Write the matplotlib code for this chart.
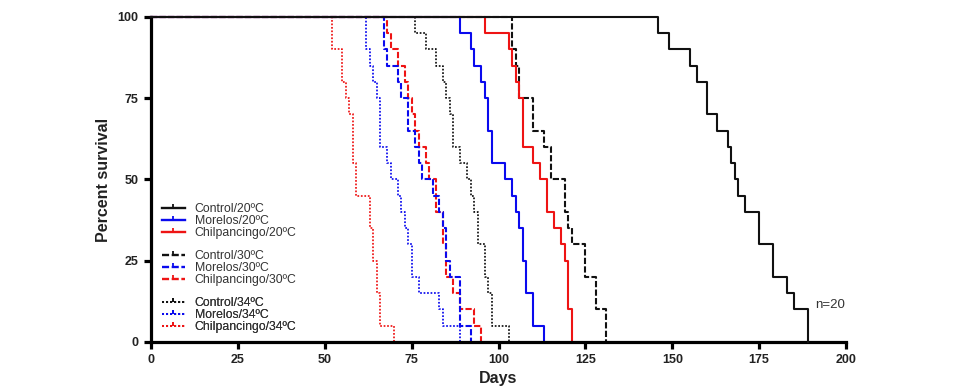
import numpy as np
import matplotlib.pyplot as plt
from matplotlib.path import Path
from matplotlib.lines import Line2D

plt.rcParams['font.family'] = ['Liberation Sans', 'DejaVu Sans']

# dias de morte de cada grupo (n=20 por grupo)
control_20 = [146, 149, 155, 157, 160, 160, 163, 166, 167, 168, 169, 171, 175, 175, 179, 179, 183, 185, 189, 189]
morelos_20 = [89, 92, 93, 95, 96, 97, 97, 98, 98, 102, 104, 105, 106, 107, 107, 108, 108, 110, 110, 113]
chilpancingo_20 = [96, 103, 104, 105, 106, 107, 107, 107, 110, 112, 114, 114, 116, 118, 119, 120, 120, 120, 121, 121]
control_30 = [104, 104, 105, 106, 106, 110, 110, 113, 115, 115, 119, 119, 120, 121, 125, 125, 128, 128, 131, 131]
morelos_30 = [67, 67, 68, 71, 72, 74, 74, 76, 77, 78, 81, 83, 84, 85, 85, 86, 89, 89, 89, 92]
chilpancingo_30 = [68, 69, 71, 73, 74, 75, 76, 77, 79, 80, 82, 82, 84, 84, 85, 85, 87, 89, 93, 95]
control_34 = [76, 79, 82, 84, 85, 86, 87, 87, 89, 91, 92, 93, 94, 94, 96, 96, 97, 98, 98, 103]
morelos_34 = [62, 62, 63, 64, 65, 66, 66, 66, 68, 69, 71, 72, 73, 74, 75, 75, 77, 83, 84, 89]
chilpancingo_34 = [52, 52, 55, 55, 56, 57, 58, 58, 58, 59, 59, 63, 63, 64, 64, 65, 65, 66, 66, 70]

groups = ['Control', 'Morelos', 'Chilpancingo']
temps = ['20', '30', '34']
series = {
    ('Control', '20'): control_20, ('Morelos', '20'): morelos_20, ('Chilpancingo', '20'): chilpancingo_20,
    ('Control', '30'): control_30, ('Morelos', '30'): morelos_30, ('Chilpancingo', '30'): chilpancingo_30,
    ('Control', '34'): control_34, ('Morelos', '34'): morelos_34, ('Chilpancingo', '34'): chilpancingo_34,
}
n_total = 20

colors = {'Control': '#111111', 'Morelos': '#0a0aee', 'Chilpancingo': '#ee1414'}
line_styles = {'20': '-', '30': (0, (3, 1.1)), '34': (0, (1, 1))}
widths = {'20': 1.5, '30': 1.5, '34': 1.25}


def km_steps(days, n):
    # curva de Kaplan-Meier sem censura
    t, d = np.unique(days, return_counts=True)
    surv = 100 * (1 - np.cumsum(d) / n)
    x = np.concatenate([[0], t])
    y = np.concatenate([[100], surv])
    return x, y


fig = plt.figure(figsize=(9.59, 3.88), dpi=100)
ax = fig.add_axes([0.1575, 0.1186, 0.7247, 0.8376])

# desenha na ordem inversa para o Control/20 ficar por cima
for temp in temps[::-1]:
    for group in groups[::-1]:
        x, y = km_steps(series[(group, temp)], n_total)
        ax.step(x, y, where='post', color=colors[group], linestyle=line_styles[temp],
                linewidth=widths[temp], clip_on=False,
                zorder=3 if (group, temp) == ('Control', '20') else 2)

ax.set_xlim(0, 200)
ax.set_ylim(0, 100)
ax.set_xticks([0, 25, 50, 75, 100, 125, 150, 175, 200])
ax.set_yticks([0, 25, 50, 75, 100])

for side in ['top', 'right']:
    ax.spines[side].set_visible(False)
for side in ['left', 'bottom']:
    ax.spines[side].set_linewidth(2.3)
    ax.spines[side].set_color('black')
ax.tick_params(axis='both', direction='out', length=5, width=2.3, colors='black',
               labelsize=9, pad=4)
for lbl in ax.get_xticklabels() + ax.get_yticklabels():
    lbl.set_fontweight('bold')
    lbl.set_color('#222222')

ax.set_ylabel('Percent survival', fontsize=11.5, fontweight='bold', color='#222222', labelpad=5)
ax.set_xlabel('Days', fontsize=11.5, fontweight='bold', color='#222222', labelpad=3)

ax.text(191, 11.5, 'n=20', fontsize=9.5, color='#333333', va='center', ha='left')

# legenda em tres blocos
tick_marker = Path([(0, 0), (0, 1)], [Path.MOVETO, Path.LINETO])
legend_tops = [0.41, 0.265, 0.12]
for temp, top in zip(temps, legend_tops):
    handles = []
    labels = []
    for group in groups:
        handles.append(Line2D([], [], color=colors[group], linestyle=line_styles[temp],
                              linewidth=widths[temp] + 0.2, marker=tick_marker,
                              markersize=6, markeredgewidth=1.3))
        labels.append(f'{group}/{temp}ºC')
    leg = ax.legend(handles, labels, loc='upper left', bbox_to_anchor=(0.012, top + 0.025),
                    frameon=False, fontsize=8.8, handlelength=1.9, handletextpad=0.8,
                    labelspacing=0.0, borderaxespad=0.0, borderpad=0.2, numpoints=1)
    for txt in leg.get_texts():
        txt.set_color('#333333')
    ax.add_artist(leg)

fig.savefig('out.png', dpi=100)
